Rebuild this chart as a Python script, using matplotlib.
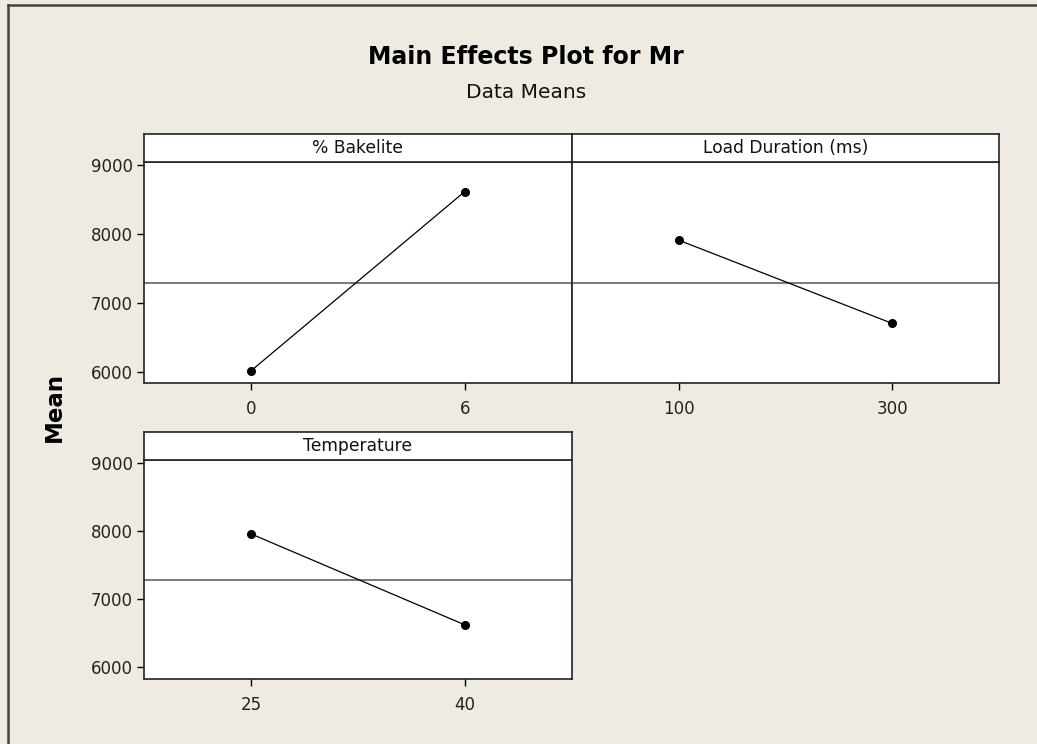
import matplotlib
matplotlib.use("Agg")
import matplotlib.pyplot as plt
from matplotlib.lines import Line2D

# data
factors = ["% Bakelite", "Load Duration (ms)", "Temperature"]
bakelite_levels = ["0", "6"]
bakelite_means = [6010, 8615]
load_levels = ["100", "300"]
load_means = [7910, 6700]
temp_levels = ["25", "40"]
temp_means = [7960, 6625]
grand_mean = 7280
yticks = [6000, 7000, 8000, 9000]

bg = "#efebe2"
W, H = 1037, 744

fig = plt.figure(figsize=(W / 100, H / 100), dpi=100, facecolor=bg)
plt.rcParams['font.family'] = ['DejaVu Sans']


def box(x0, x1, y0, y1):
    # pixel box -> figure fraction rect
    return [x0 / W, 1 - y1 / H, (x1 - x0) / W, (y1 - y0) / H]


def panel(plot_rect, strip_rect, name, levels, means, show_y):
    ax = fig.add_axes(plot_rect)
    ax.set_facecolor("white")
    pos = [1, 2]
    ax.axhline(grand_mean, color="#555555", lw=1.1, zorder=1)
    ax.plot(pos, means, color="black", lw=0.9, marker="o", ms=5.5, zorder=3)
    ax.set_xlim(0.5, 2.5)
    ax.set_ylim(5830, 9040)
    ax.set_xticks(pos)
    ax.set_xticklabels(levels)
    if show_y:
        ax.set_yticks(yticks)
        ax.set_yticklabels([str(t) for t in yticks])
    else:
        ax.set_yticks([])
    ax.tick_params(direction="out", length=5, width=1, colors="black",
                   labelsize=12, labelcolor="#222222", pad=3)
    ax.tick_params(axis="x", pad=7)
    for s in ax.spines.values():
        s.set_linewidth(1.2)
        s.set_color("#222222")

    st = fig.add_axes(strip_rect)
    st.set_facecolor("white")
    st.set_xticks([])
    st.set_yticks([])
    for s in st.spines.values():
        s.set_linewidth(1.2)
        s.set_color("#222222")
    st.text(0.5, 0.5, name, ha="center", va="center", fontsize=12.3,
            color="#111111", transform=st.transAxes)
    return ax


panel(box(144, 571.7, 162.3, 383.3), box(144, 571.7, 134, 162.3),
      factors[0], bakelite_levels, bakelite_means, True)
panel(box(571.7, 999, 162.3, 383.3), box(571.7, 999, 134, 162.3),
      factors[1], load_levels, load_means, False)
panel(box(144, 571.7, 460.3, 679), box(144, 571.7, 432.3, 460.3),
      factors[2], temp_levels, temp_means, True)

fig.text(526 / W, 1 - 57 / H, "Main Effects Plot for Mr", ha="center",
         va="center", fontsize=17, fontweight="bold", color="black")
fig.text(526 / W, 1 - 93 / H, "Data Means", ha="center", va="center",
         fontsize=14.5, color="#111111")
fig.text(54 / W, 1 - 407 / H, "Mean", ha="center", va="center",
         rotation=90, fontsize=16.5, fontweight="bold", color="black")

# frame of the graph window
fig.add_artist(Line2D([8 / W, 8 / W], [0, 1 - 5 / H], color="#444444",
                      lw=1.8, transform=fig.transFigure))
fig.add_artist(Line2D([8 / W, 1], [1 - 5 / H, 1 - 5 / H], color="#444444",
                      lw=1.8, transform=fig.transFigure))

fig.savefig("out.png", dpi=100, facecolor=bg)
